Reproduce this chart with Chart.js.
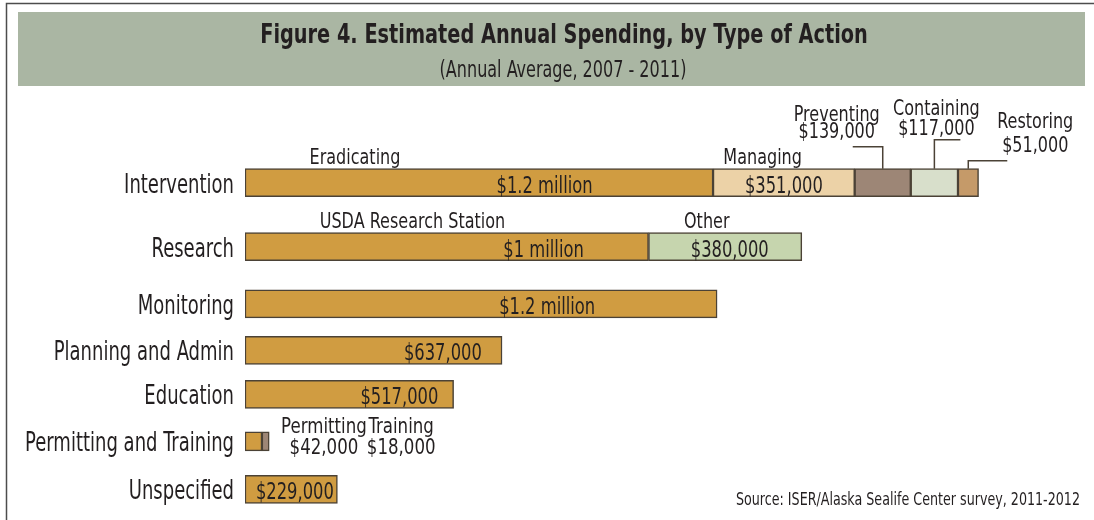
<!DOCTYPE html>
<html>
<head>
<meta charset="utf-8">
<title>Estimated Annual Spending, by Type of Action</title>
<script src="https://cdn.jsdelivr.net/npm/chart.js@4.4.1/dist/chart.umd.min.js"></script>
<style>
    html, body { margin: 0; padding: 0; background: #fff; }
    canvas { display: block; }
</style>
</head>
<body>
<canvas id="spendChart" width="1094" height="520"></canvas>
<script>
// Spending data (annual average, 2007 - 2011)
const rowNames = ['Intervention', 'Research', 'Monitoring', 'Planning and Admin', 'Education', 'Permitting and Training', 'Unspecified'];
const interventionParts = ['Eradicating', 'Managing', 'Preventing', 'Containing', 'Restoring'];
const interventionSpend = [1160000, 351000, 139000, 117000, 51000];
const researchParts = ['USDA Research Station', 'Other'];
const researchSpend = [1000000, 380000];
const monitoringSpend = [1170000];
const planningSpend = [637000];
const educationSpend = [517000];
const permittingParts = ['Permitting', 'Training'];
const permittingSpend = [42000, 18000];
const unspecifiedSpend = [229000];

const rowParts = [interventionParts, researchParts, ['Monitoring'], ['Planning and Admin'], ['Education'], permittingParts, ['Unspecified']];
const rowSpend = [interventionSpend, researchSpend, monitoringSpend, planningSpend, educationSpend, permittingSpend, unspecifiedSpend];

// rows are not evenly spaced, so each one gets its own slot on the y scale
const rowSlots = [0, 1.25, 2.37, 3.28, 4.14, 5.06, 6];

const FONT = "'Liberation Sans Narrow', 'DejaVu Sans Condensed', 'Arial Narrow', sans-serif";
const textColor = '#231f20';
const edgeColor = '#4b4236';
const bandColor = '#aab6a3';
const gold = '#d09c41';

const partColors = {
    'Managing': '#ecd2a7',
    'Preventing': '#9d8676',
    'Containing': '#d8dfcb',
    'Restoring': '#c59a69',
    'Other': '#c6d5ae',
    'Training': '#9d8676'
};

// where each segment's labels go (fractions are along the segment)
const partLabels = {
    'Eradicating': { value: 0.64, name: 0.235 },
    'Managing': { value: 0.5, name: 0.35 },
    'Preventing': { callout: { up: 22, across: -30, textDx: -46, lines: [48, 31] } },
    'Containing': { callout: { up: 29, across: 26, textDx: 2, lines: [54, 34] } },
    'Restoring': { callout: { up: 8, across: 39, textDx: 67, lines: [41, 17] } },
    'USDA Research Station': { value: 0.74, name: 0.415 },
    'Other': { value: 0.53, name: 0.38 },
    'Monitoring': { value: 0.64 },
    'Planning and Admin': { value: 0.77 },
    'Education': { value: 0.74 },
    'Permitting': { side: 62 },
    'Training': { side: 132 },
    'Unspecified': { value: 0.54 }
};

function money(v) {
    if (v >= 1000000) {
        return '$' + String(+(v / 1000000).toFixed(1)) + ' million';
    }
    return '$' + v.toLocaleString('en-US');
}

// condensed lettering: squeeze the glyphs horizontally by sx
function drawText(ctx, str, x, y, size, opts) {
    opts = opts || {};
    ctx.save();
    ctx.font = (opts.bold ? 'bold ' : '') + size + 'px ' + FONT;
    ctx.fillStyle = textColor;
    ctx.textAlign = opts.align || 'left';
    ctx.textBaseline = 'alphabetic';
    ctx.translate(x, y);
    ctx.scale(opts.sx || 0.8, 1);
    ctx.fillText(str, 0, 0);
    ctx.restore();
}

const datasets = [];
rowNames.forEach((row, r) => {
    rowParts[r].forEach((part, p) => {
        datasets.push({
            label: part,
            data: [{ x: rowSpend[r][p], y: rowSlots[r] }],
            backgroundColor: partColors[part] || gold,
            borderColor: edgeColor,
            borderWidth: 1.5,
            borderSkipped: false,
            barThickness: r === 5 ? 19 : 28,
            row: r,
            first: p === 0
        });
    });
});

const figureDecor = {
    id: 'figureDecor',
    beforeDraw(chart) {
        const ctx = chart.ctx;
        ctx.save();
        ctx.fillStyle = '#fff';
        ctx.fillRect(0, 0, chart.width, chart.height);
        ctx.strokeStyle = '#4d4d4d';
        ctx.lineWidth = 1.5;
        ctx.beginPath();
        ctx.moveTo(6.5, chart.height);
        ctx.lineTo(6.5, 3.5);
        ctx.lineTo(chart.width, 3.5);
        ctx.stroke();
        ctx.fillStyle = bandColor;
        ctx.fillRect(18, 12, 1067, 74);
        ctx.restore();

        drawText(ctx, 'Figure 4. Estimated Annual Spending, by Type of Action', 564, 43, 27, { bold: true, align: 'center', sx: 0.795 });
        drawText(ctx, '(Annual Average, 2007 - 2011)', 563, 77, 23, { align: 'center', sx: 0.775 });
    },
    afterDatasetsDraw(chart) {
        const ctx = chart.ctx;
        const area = chart.chartArea;

        chart.data.datasets.forEach((ds, i) => {
            const bar = chart.getDatasetMeta(i).data[0];
            const { x, base, y, height } = bar.getProps(['x', 'base', 'y', 'height'], true);
            const left = Math.min(x, base);
            const right = Math.max(x, base);
            const top = y - height / 2;
            const bottom = y + height / 2;
            const style = partLabels[ds.label] || {};
            const valueText = money(ds.data[0].x);

            if (ds.first) {
                drawText(ctx, rowNames[ds.row], area.left - 11, y + 10, 26, { align: 'right', sx: 0.77 });
            }
            if (style.value != null) {
                drawText(ctx, valueText, left + (right - left) * style.value, bottom - 4, 23, { align: 'center', sx: 0.79 });
            }
            if (style.name != null) {
                drawText(ctx, ds.label, left + (right - left) * style.name, top - 5, 22, { align: 'center', sx: 0.81 });
            }
            if (style.callout) {
                const c = style.callout;
                const cx = (left + right) / 2;
                ctx.save();
                ctx.strokeStyle = edgeColor;
                ctx.lineWidth = 1.5;
                ctx.beginPath();
                ctx.moveTo(cx, top);
                ctx.lineTo(cx, top - c.up);
                ctx.lineTo(cx + c.across, top - c.up);
                ctx.stroke();
                ctx.restore();
                drawText(ctx, ds.label, cx + c.textDx, top - c.lines[0], 22, { align: 'center', sx: 0.81 });
                drawText(ctx, valueText, cx + c.textDx, top - c.lines[1], 22, { align: 'center', sx: 0.81 });
            }
            if (style.side != null) {
                drawText(ctx, ds.label, right + style.side, y - 8.5, 22, { align: 'center', sx: 0.84 });
                drawText(ctx, valueText, right + style.side, y + 12.5, 22, { align: 'center', sx: 0.84 });
            }
        });

        drawText(ctx, 'Source: ISER/Alaska Sealife Center survey, 2011-2012', 1080, 505, 17, { align: 'right', sx: 0.83 });
    }
};

new Chart(document.getElementById('spendChart'), {
    type: 'bar',
    data: { datasets: datasets },
    options: {
        indexAxis: 'y',
        responsive: false,
        animation: false,
        layout: { padding: { left: 245, right: 42, top: 106, bottom: 5 } },
        scales: {
            x: { type: 'linear', stacked: true, min: 0, max: 2000000, display: false },
            y: { type: 'linear', stacked: true, offset: false, min: -1.5, max: 6.5, reverse: true, display: false }
        },
        plugins: {
            legend: { display: false },
            tooltip: { enabled: false }
        }
    },
    plugins: [figureDecor]
});
</script>
</body>
</html>
